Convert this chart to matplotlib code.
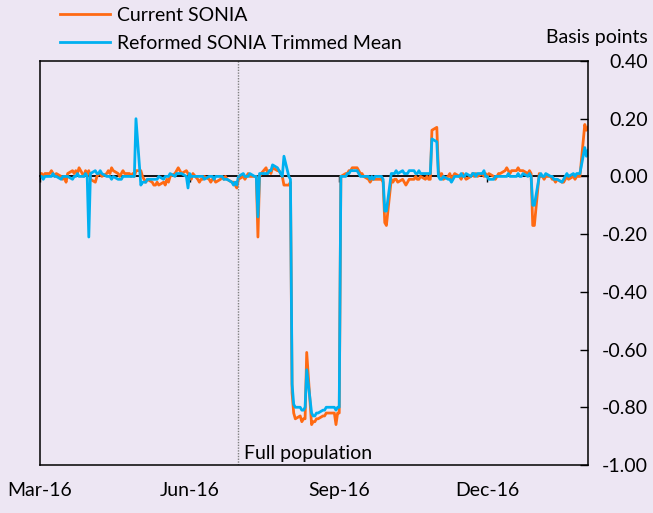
import pandas as pd
import matplotlib
matplotlib.use("Agg")
import matplotlib.pyplot as plt

# daily spread vs bank rate, basis points (business days 1 Mar 2016 - 1 Feb 2017)
current_sonia = [
    # Mar
    0.01, 0.01, 0.00, 0.01, 0.01, 0.02, 0.01, 0.00, 0.01, 0.00, -0.01, 0.00,
    -0.02, 0.01, 0.02, 0.01, 0.02, 0.01, 0.03, 0.00, 0.02, 0.01, 0.02,
    # Apr
    -0.01, -0.02, 0.00, 0.01, 0.01, 0.00, 0.01, 0.02, 0.01, 0.03, 0.02, 0.01,
    0.00, 0.01, 0.02, 0.01, 0.01, 0.00, 0.01, 0.00, 0.02,
    # May
    0.02, 0.00, -0.01, -0.02, -0.01, -0.02, -0.03, -0.03, -0.02, -0.03, -0.02,
    -0.03, -0.01, -0.02, 0.00, 0.01, 0.02, 0.03, 0.02, 0.01, 0.02, 0.01,
    # Jun
    0.00, -0.01, 0.01, -0.01, -0.02, -0.01, -0.01, 0.00, -0.01, -0.02, -0.01,
    -0.01, -0.02, -0.01, 0.00, -0.01, 0.00, -0.01, -0.02, -0.02, -0.03, -0.04,
    # Jul
    -0.01, 0.00, -0.01, 0.00, 0.01, 0.00, 0.00, 0.00, -0.21, 0.00, 0.01, 0.03,
    0.01, 0.02, 0.01, 0.03, 0.02, 0.02, 0.01, 0.00, -0.03,
    # Aug
    -0.03, -0.02, -0.75, -0.82, -0.84, -0.83, -0.85, -0.84, -0.84, -0.61, -0.86,
    -0.85, -0.85, -0.84, -0.84, -0.83, -0.83, -0.82, -0.82, -0.82, -0.82,
    -0.86, -0.82,
    # Sep
    -0.82, 0.00, 0.01, 0.01, 0.02, 0.02, 0.03, 0.03, 0.02, 0.01, 0.01, 0.00,
    -0.01, -0.02, -0.01, -0.01, -0.01, -0.01, -0.01, -0.02, -0.16, -0.17,
    # Oct
    -0.01, -0.02, -0.01, -0.01, -0.02, -0.01, -0.02, -0.03, -0.02, -0.01, -0.01,
    0.00, -0.01, -0.01, 0.00, -0.01, 0.00, -0.01, -0.01, 0.16, 0.17,
    # Nov
    0.02, 0.00, 0.01, -0.01, 0.00, 0.01, -0.01, 0.00, 0.01, 0.00, -0.01, 0.01,
    0.00, -0.01, 0.00, 0.01, 0.00, 0.01, 0.00, 0.01, 0.00, 0.01,
    # Dec
    0.00, 0.01, 0.00, -0.01, 0.00, 0.01, 0.01, 0.02, 0.03, 0.02, 0.01, 0.02,
    0.02, 0.03, 0.02, 0.02, 0.02, 0.01, 0.02, 0.01, -0.17, -0.17,
    # Jan
    0.01, 0.00, 0.00, -0.01, 0.00, 0.00, -0.01, -0.01, -0.02, -0.01, -0.02,
    -0.02, -0.01, 0.00, -0.01, 0.00, -0.01, 0.00, 0.00, 0.00, 0.18, 0.16,
    # Feb
    0.17,
]

reformed_trimmed = [
    # Mar
    0.00, 0.00, -0.01, 0.00, 0.00, 0.00, 0.01, 0.00, 0.00, -0.01, 0.00, 0.00,
    0.00, 0.00, -0.01, 0.00, 0.00, 0.01, 0.00, 0.00, 0.01, 0.00, -0.21,
    # Apr
    0.01, 0.02, 0.01, 0.01, 0.02, 0.01, 0.00, 0.00, 0.00, -0.01, 0.00, -0.01,
    -0.01, -0.01, 0.00, 0.00, 0.00, 0.00, 0.00, 0.00, 0.20,
    # May
    -0.03, -0.02, -0.02, -0.02, -0.01, -0.01, -0.01, -0.01, -0.01, 0.00, -0.01,
    0.00, 0.00, 0.00, 0.01, 0.00, 0.01, 0.01, 0.01, 0.01, 0.00, -0.04,
    # Jun
    0.01, 0.00, 0.00, 0.00, 0.00, 0.00, 0.00, -0.01, 0.00, 0.00, 0.00, -0.01,
    0.00, 0.00, 0.00, -0.01, -0.01, -0.01, -0.02, -0.03, -0.02, -0.03,
    # Jul
    0.00, 0.01, 0.00, 0.00, 0.00, 0.01, 0.00, 0.00, -0.14, 0.01, 0.01, 0.01,
    0.01, 0.02, 0.02, 0.04, 0.03, 0.02, 0.01, 0.00, 0.07,
    # Aug
    0.00, -0.01, -0.72, -0.79, -0.80, -0.80, -0.81, -0.81, -0.80, -0.67, -0.82,
    -0.83, -0.83, -0.82, -0.82, -0.81, -0.81, -0.80, -0.80, -0.80, -0.80,
    -0.81, -0.80,
    # Sep
    -0.80, 0.00, 0.00, 0.01, 0.01, 0.02, 0.02, 0.02, 0.01, 0.00, 0.00, 0.00,
    0.00, -0.01, 0.00, -0.01, 0.00, 0.00, 0.00, -0.01, -0.12, -0.12,
    # Oct
    0.01, 0.01, 0.01, 0.02, 0.01, 0.02, 0.01, 0.01, 0.01, 0.02, 0.02, 0.01,
    0.01, 0.02, 0.01, 0.01, 0.01, 0.01, 0.01, 0.13, 0.12,
    # Nov
    0.00, -0.01, -0.01, 0.00, -0.01, -0.01, -0.02, -0.01, 0.00, 0.00, 0.01,
    0.00, 0.00, 0.01, 0.00, 0.01, 0.01, 0.00, 0.01, 0.01, 0.02, 0.00,
    # Dec
    0.00, -0.01, -0.01, 0.00, 0.00, 0.00, 0.00, 0.00, 0.00, 0.01, 0.00, 0.00,
    0.00, 0.01, 0.00, 0.00, 0.01, 0.00, 0.01, 0.00, -0.10, -0.10,
    # Jan
    0.00, 0.01, 0.00, 0.00, 0.01, 0.00, 0.00, -0.01, -0.01, -0.01, -0.02,
    -0.01, 0.00, 0.01, 0.00, 0.01, 0.00, 0.01, 0.01, 0.01, 0.10, 0.07,
    # Feb
    0.09,
]

dates = pd.bdate_range("2016-03-01", "2017-02-01")
split_date = pd.Timestamp("2016-07-01")
tick_dates = pd.to_datetime(["2016-03-01", "2016-06-01", "2016-09-01", "2016-12-01"])
tick_labels = ["Mar-16", "Jun-16", "Sep-16", "Dec-16"]

bg = "#EDE6F3"
orange = "#FF6A13"
blue = "#00B0F0"

plt.rcParams["font.family"] = ["Lato", "DejaVu Sans"]
plt.rcParams["font.size"] = 14

fig = plt.figure(figsize=(6.53, 5.13), dpi=100, facecolor=bg)
ax = fig.add_axes([0.0613, 0.0936, 0.8392, 0.7875])
ax.set_facecolor(bg)

ax.plot(dates, current_sonia, color=orange, lw=2.0, label="Current SONIA")
ax.plot(dates, reformed_trimmed, color=blue, lw=2.0, label="Reformed SONIA Trimmed Mean")

ax.axvline(split_date, color="#808080", lw=1, ls=(0, (1, 1)))
ax.annotate("Full population", xy=(split_date, -0.96), xytext=(4, 0),
            textcoords="offset points", va="center", ha="left")

ax.set_xlim(pd.Timestamp("2016-03-01"), pd.Timestamp("2017-02-01"))
ax.set_ylim(-1.0, 0.4)

# bottom: labels only
ax.set_xticks(tick_dates)
ax.set_xticklabels(tick_labels)
ax.tick_params(axis="x", length=0, pad=12)

# zero line with small ticks pointing down
zero_ax = ax.secondary_xaxis(1.0 / 1.4)
zero_ax.xaxis.set_ticks_position("bottom")
zero_ax.set_xticks(tick_dates)
zero_ax.set_xticklabels([])
zero_ax.tick_params(axis="x", length=4, width=1, direction="out",
                    labelbottom=False, labeltop=False)
for s in zero_ax.spines.values():
    s.set_linewidth(1.3)

ax.yaxis.tick_right()
ax.set_yticks([-1.0, -0.8, -0.6, -0.4, -0.2, 0.0, 0.2, 0.4])
ax.set_yticklabels(["%.2f" % v for v in ax.get_yticks()])
ax.tick_params(axis="y", direction="in", length=6, width=1, pad=43)
for lab in ax.get_yticklabels():
    lab.set_horizontalalignment("right")

for s in ax.spines.values():
    s.set_linewidth(1.1)

fig.text(0.992, 1 - 37 / 513, "Basis points", ha="right", va="center")

ax.legend(loc="upper left", bbox_to_anchor=(60 / 653, 1 - 7 / 513),
          bbox_transform=fig.transFigure, frameon=False, borderpad=0,
          borderaxespad=0, handlelength=2.58, handletextpad=0.36,
          labelspacing=0.56)

fig.savefig("out.png", dpi=100, facecolor=bg)
